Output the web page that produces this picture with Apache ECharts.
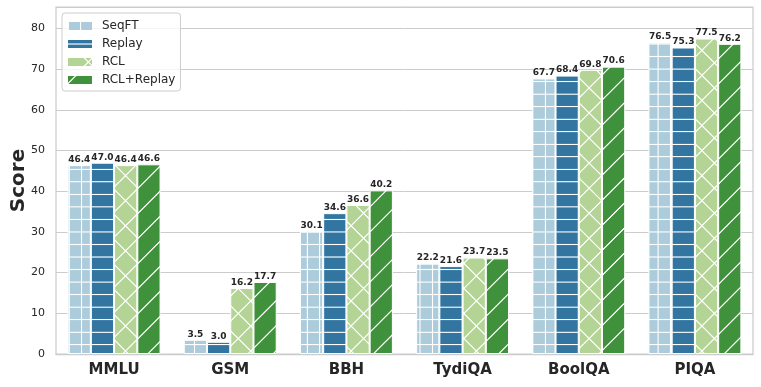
<!DOCTYPE html>
<html><head><meta charset="utf-8">
<script src="https://cdn.jsdelivr.net/npm/echarts@6/dist/echarts.min.js"></script>
<style>html,body{margin:0;padding:0;background:#fff}#c{width:761px;height:387px}</style>
</head><body><div id="c"></div>
<script>
const categories = ['MMLU', 'GSM', 'BBH', 'TydiQA', 'BoolQA', 'PIQA'];
const seqFT = [46.4, 3.5, 30.1, 22.2, 67.7, 76.5];
const replay = [47.0, 3.0, 34.6, 21.6, 68.4, 75.3];
const rcl = [46.4, 16.2, 36.6, 23.7, 69.8, 77.5];
const rclReplay = [46.6, 17.7, 40.2, 23.5, 70.6, 76.2];
const seriesNames = ['SeqFT', 'Replay', 'RCL', 'RCL+Replay'];
const seriesValues = [seqFT, replay, rcl, rclReplay];
const yMin = 0, yMax = 85.25, yStep = 10;

const FONT = 'DejaVu Sans';
const TXT = '#262626';
const colors = ['#adccdb', '#3275a1', '#b3d495', '#40913b'];
const kinds = ['grid', 'hline', 'cross', 'slash'];
const PERIOD = 25.06; // screen px represented by one tile
const S = 50;
const SC = PERIOD / S;

function makeTile(bg, kind) {
  const c = document.createElement('canvas');
  c.width = S; c.height = S;
  const g = c.getContext('2d');
  g.fillStyle = bg; g.fillRect(0, 0, S, S);
  g.fillStyle = '#ffffff'; g.strokeStyle = '#ffffff';
  if (kind === 'grid' || kind === 'hline') {
    g.fillRect(0, -1.1, S, 2.2); g.fillRect(0, 23.9, S, 2.2); g.fillRect(0, S - 1.1, S, 2.2);
  }
  if (kind === 'grid') {
    g.fillRect(-1.1, 0, 2.2, S); g.fillRect(23.9, 0, 2.2, S); g.fillRect(S - 1.1, 0, 2.2, S);
  }
  if (kind === 'slash' || kind === 'cross') {
    g.lineWidth = 2.4;
    for (const k of [0, 50, 100]) { g.beginPath(); g.moveTo(-10, k + 10); g.lineTo(k + 10, -10); g.stroke(); }
  }
  if (kind === 'cross') {
    g.lineWidth = 2.4;
    for (const k of [-50, 0, 50]) { g.beginPath(); g.moveTo(-10, -10 - k); g.lineTo(60, 60 - k); g.stroke(); }
  }
  return c;
}
const tiles = colors.map((col, i) => makeTile(col, kinds[i]));
const barOffsets = [[6.5, 6.4], [6.5, 6.4], [0.2, 0.2], [0.2, 0.2]];
const legendOffsets = [[0.2, -2], [0.2, 4], [20.3, 4], [3.5, 4]];
function pattern(i, off) {
  return { image: tiles[i], repeat: 'repeat', x: off[0], y: off[1], scaleX: SC, scaleY: SC };
}

const chart = echarts.init(document.getElementById('c'), null, { renderer: 'canvas' });
chart.setOption({
  animation: false,
  backgroundColor: '#ffffff',
  textStyle: { fontFamily: FONT },
  grid: { left: 56, right: 8, top: 7, bottom: 33, show: true, borderColor: '#cccccc', borderWidth: 1.25,
    backgroundColor: 'transparent', containLabel: false, outerBoundsMode: 'none' },
  legend: {
    orient: 'vertical', left: 62, top: 13,
    itemWidth: 24, itemHeight: 8, itemGap: 6,
    padding: [7, 5, 5, 6],
    backgroundColor: 'rgba(255,255,255,0.8)', borderColor: '#cccccc', borderWidth: 1, borderRadius: 3,
    icon: 'rect',
    textStyle: { fontSize: 12, color: TXT, fontFamily: FONT, padding: [0, 0, 0, 5] },
    data: seriesNames.map((n, i) => ({ name: n, itemStyle: { color: pattern(i, legendOffsets[i]), borderWidth: 0 } }))
  },
  xAxis: {
    type: 'category', data: categories,
    axisTick: { show: false },
    axisLine: { show: true, lineStyle: { color: '#cccccc', width: 1.25 } },
    axisLabel: { fontSize: 15, fontWeight: 'bold', color: TXT, margin: 9, fontFamily: FONT },
    splitLine: { show: false }
  },
  yAxis: {
    type: 'value', min: yMin, max: yMax, interval: yStep,
    name: 'Score', nameLocation: 'middle', nameGap: 27, nameMoveOverlap: false,
    nameTextStyle: { fontSize: 20, fontWeight: 'bold', color: TXT, fontFamily: FONT },
    axisLine: { show: false }, axisTick: { show: false },
    axisLabel: { fontSize: 11, color: TXT, margin: 11, fontFamily: FONT, showMaxLabel: false,
      formatter: v => (v % 10 === 0 ? String(v) : '') },
    splitLine: { lineStyle: { color: '#cccccc', width: 1 } }
  },
  series: seriesNames.map((n, i) => ({
    name: n, type: 'bar', data: seriesValues[i],
    barGap: '0%', barCategoryGap: '20%',
    itemStyle: { color: pattern(i, barOffsets[i]), borderColor: '#ffffff', borderWidth: 1 },
    emphasis: { disabled: true },
    label: { show: true, position: 'top', distance: 1, fontSize: 9, fontWeight: 'bold', color: TXT, fontFamily: FONT,
      formatter: p => Number(p.value).toFixed(1) }
  }))
});
</script></body></html>
